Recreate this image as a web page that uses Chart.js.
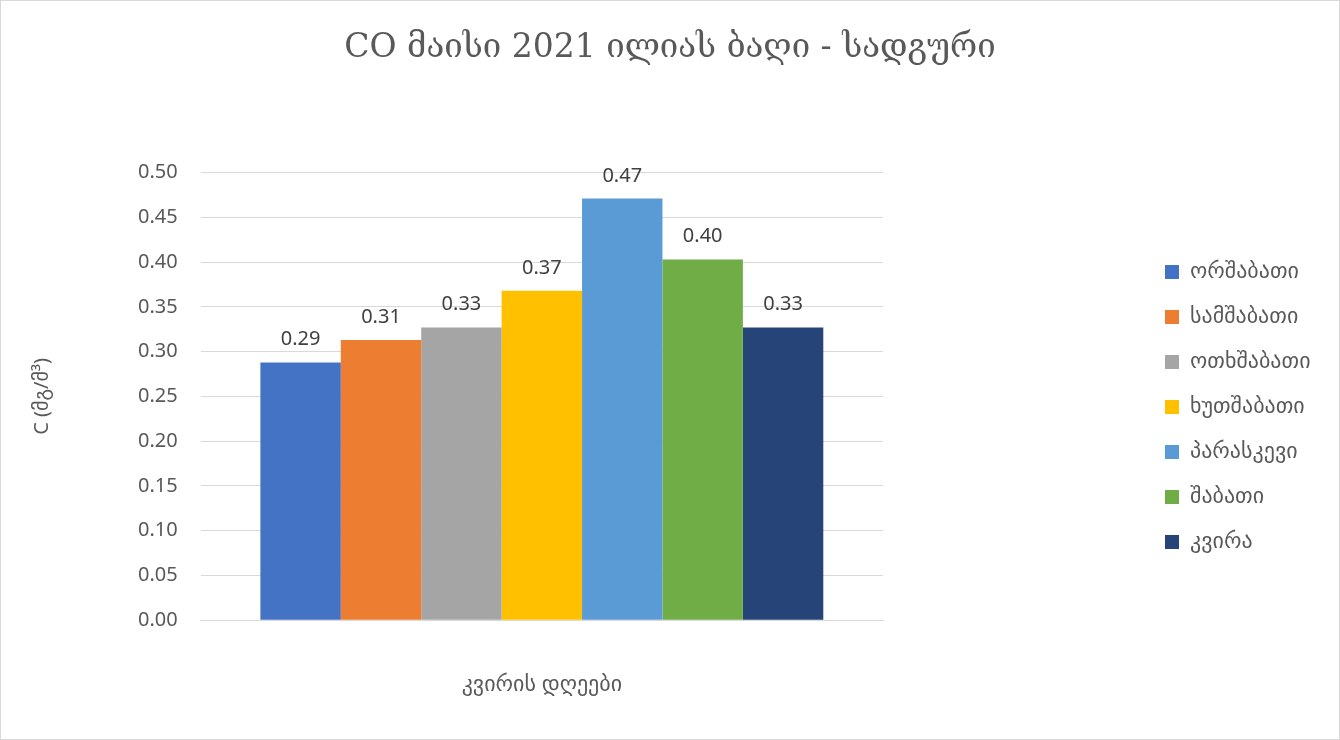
<!DOCTYPE html>
<html>
<head>
<meta charset="utf-8">
<script src="https://cdn.jsdelivr.net/npm/chart.js@4"></script>
<style>
  html, body { margin: 0; padding: 0; background: #fff; }
  #wrap { width: 1338px; height: 738px; border: 1px solid #d9d9d9; }
</style>
</head>
<body>
<div id="wrap"><canvas id="coChart" width="1338" height="738"></canvas></div>
<script>
var DAYS = ['ორშაბათი', 'სამშაბათი', 'ოთხშაბათი', 'ხუთშაბათი', 'პარასკევი', 'შაბათი', 'კვირა'];
var CO_VALUES = [0.288, 0.313, 0.327, 0.368, 0.471, 0.403, 0.327];
var COLORS = ['#4472C4', '#ED7D31', '#A5A5A5', '#FFC000', '#5B9BD5', '#70AD47', '#264478'];

var FONT = "'Noto Sans', 'DejaVu Sans', sans-serif";
var GREY = '#595959';

// values printed on top of every bar
const barLabels = {
  id: 'barLabels',
  afterDatasetsDraw(chart) {
    const ctx = chart.ctx;
    ctx.save();
    ctx.font = '20px ' + FONT;
    ctx.fillStyle = '#404040';
    ctx.textAlign = 'center';
    ctx.textBaseline = 'alphabetic';
    chart.data.datasets.forEach((ds, i) => {
      chart.getDatasetMeta(i).data.forEach((bar, j) => {
        ctx.fillText(ds.data[j].toFixed(2), bar.x, bar.y - 17);
      });
    });
    ctx.restore();
  }
};

// keep legend on the far right with an empty gap next to the plot
const legendSpot = {
  id: 'legendSpot',
  beforeInit(chart) {
    const legend = chart.legend;
    const fit = legend.fit;
    legend.fit = function () {
      fit.call(this);
      this.width = 456;
    };
  },
  afterLayout(chart) {
    const legend = chart.legend;
    legend.left = 1141;
    legend.top = 237;
  }
};

const ctx = document.getElementById('coChart');
new Chart(ctx, {
  type: 'bar',
  data: {
    labels: [''],
    datasets: DAYS.map((d, i) => ({
      label: d,
      data: [CO_VALUES[i]],
      backgroundColor: COLORS[i],
      barPercentage: 1,
      categoryPercentage: 0.825
    }))
  },
  options: {
    responsive: false,
    animation: false,
    layout: {
      padding: { left: 0, right: 0, top: 0, bottom: 37 }
    },
    plugins: {
      title: {
        display: true,
        text: 'CO მაისი 2021 ილიას ბაღი - სადგური',
        color: GREY,
        font: { family: "'DejaVu Serif', serif", size: 33, weight: 'normal' },
        padding: { top: 28, bottom: 104 }
      },
      legend: {
        position: 'right',
        align: 'start',
        labels: {
          boxWidth: 14,
          boxHeight: 14,
          padding: 23,
          color: GREY,
          font: { family: FONT, size: 22 }
        }
      },
      tooltip: { enabled: false }
    },
    scales: {
      x: {
        grid: { display: false },
        border: { color: '#d9d9d9' },
        ticks: { font: { size: 17 }, padding: 4 },
        title: {
          display: true,
          text: 'კვირის დღეები',
          color: GREY,
          font: { family: FONT, size: 22 },
          padding: { top: 15 }
        }
      },
      y: {
        min: 0,
        max: 0.5,
        border: { display: false },
        grid: { color: '#d9d9d9', drawTicks: false },
        ticks: {
          stepSize: 0.05,
          padding: 23,
          color: GREY,
          font: { family: FONT, size: 20 },
          callback: v => v.toFixed(2)
        },
        title: {
          display: true,
          text: 'C (მგ/მ³)',
          color: GREY,
          font: { family: FONT, size: 20 },
          padding: { top: 29, bottom: 61 }
        }
      }
    }
  },
  plugins: [barLabels, legendSpot]
});
</script>
</body>
</html>
